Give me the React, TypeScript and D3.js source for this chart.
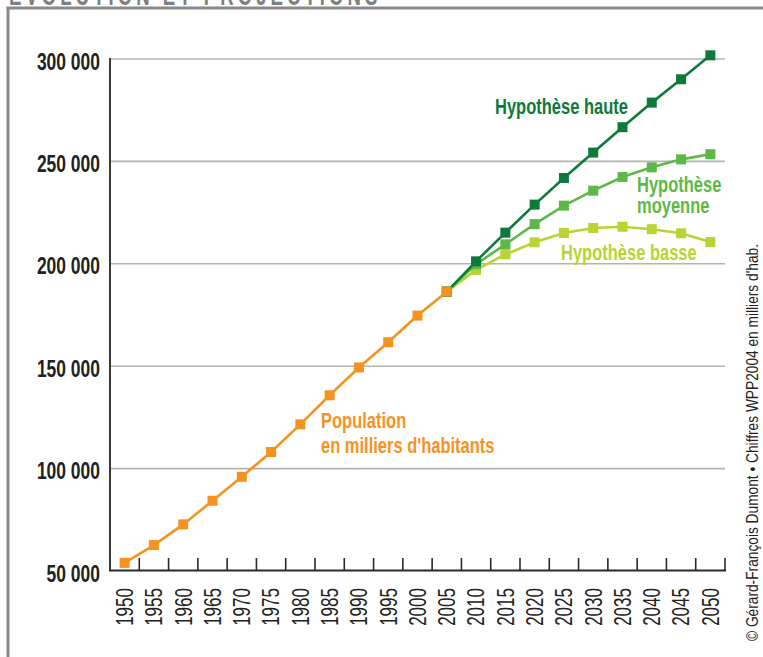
import * as d3 from "d3";
import React, { useEffect, useRef } from "react";

const years = [
  "1950", "1955", "1960", "1965", "1970", "1975", "1980", "1985", "1990", "1995", "2000",
  "2005", "2010", "2015", "2020", "2025", "2030", "2035", "2040", "2045", "2050",
];
const population = [
  53975, 62656, 72759, 84292, 95996, 108113, 121618, 135814, 149394, 161692, 174718, 186405,
];
const projYears = ["2005", "2010", "2015", "2020", "2025", "2030", "2035", "2040", "2045", "2050"];
const haute = [186405, 201200, 215200, 228900, 241900, 254300, 266700, 278700, 290100, 301800];
const moyenne = [186405, 199800, 209500, 219400, 228400, 235700, 242400, 247100, 251000, 253500];
const basse = [186405, 197000, 204600, 210500, 215000, 217500, 218100, 216900, 214900, 210600];
const yTicks = [50000, 100000, 150000, 200000, 250000, 300000];

// no narrow font installed, so squeeze Liberation Sans horizontally
const FONT = "'Liberation Sans', Arial, sans-serif";

export default function App() {
  const ref = useRef<SVGSVGElement>(null);

  useEffect(() => {
    document.body.style.margin = "0";
    const svg = d3.select(ref.current);
    svg.selectAll("*").remove();

    const x = d3.scaleBand().domain(years).range([110, 725]).padding(0);
    const y = d3.scaleLinear().domain([50000, 300000]).range([571, 59]);
    const cx = (yr) => x(yr) + x.bandwidth() / 2;

    // frame + title
    svg.append("line").attr("x1", 8).attr("x2", 8).attr("y1", 7).attr("y2", 657)
      .attr("stroke", "#8a8a8a").attr("stroke-width", 3);
    svg.append("line").attr("x1", 6.5).attr("x2", 763).attr("y1", 8).attr("y2", 8)
      .attr("stroke", "#8a8a8a").attr("stroke-width", 3);
    svg.append("text").attr("transform", "translate(9,5) scale(0.62,1)")
      .style("font-family", FONT).style("font-weight", "bold").style("font-size", "30px")
      .style("letter-spacing", "6.5px").attr("fill", "#7f7f7f")
      .text("EVOLUTION ET PROJECTIONS");

    // grid
    svg.append("g").selectAll("line")
      .data(yTicks.filter((d) => d > 50000))
      .join("line")
      .attr("x1", 110).attr("x2", 725)
      .attr("y1", (d) => y(d)).attr("y2", (d) => y(d))
      .attr("stroke", "#b3b3b3").attr("stroke-width", 1.6);

    // y labels
    svg.append("g").selectAll("text")
      .data(yTicks)
      .join("text")
      .attr("transform", (d) => `translate(100,${y(d) + 10.5}) scale(0.76,1)`)
      .attr("text-anchor", "end")
      .style("font-family", FONT).style("font-weight", "bold").style("font-size", "23px")
      .attr("fill", "#222")
      .text((d) => d3.format(",")(d).replace(",", " "));

    // axes
    svg.append("line").attr("x1", 110).attr("x2", 110).attr("y1", 58).attr("y2", 571)
      .attr("stroke", "#3a3a3a").attr("stroke-width", 2);
    svg.append("line").attr("x1", 109).attr("x2", 726).attr("y1", 570.5).attr("y2", 570.5)
      .attr("stroke", "#2a2a2a").attr("stroke-width", 2.2);
    const bounds = years.map((d) => x(d)).concat([x(years[years.length - 1]) + x.bandwidth()]);
    svg.append("g").selectAll("line")
      .data(bounds.slice(1))
      .join("line")
      .attr("x1", (d) => d).attr("x2", (d) => d)
      .attr("y1", 558).attr("y2", 571)
      .attr("stroke", "#2a2a2a").attr("stroke-width", 1.6);

    // x labels
    svg.append("g").selectAll("text")
      .data(years)
      .join("text")
      .attr("transform", (d) => `translate(${cx(d)},588) rotate(-90) scale(0.74,1)`)
      .attr("text-anchor", "end").attr("dy", "0.36em")
      .style("font-family", FONT).style("font-size", "23px")
      .attr("fill", "#222")
      .text((d) => d);

    // credit
    svg.append("text")
      .attr("transform", "translate(752,641) rotate(-90)")
      .attr("dy", "0.36em")
      .attr("textLength", 397).attr("lengthAdjust", "spacingAndGlyphs")
      .style("font-family", FONT).style("font-size", "17px")
      .attr("fill", "#222")
      .text("© Gérard-François Dumont • Chiffres WPP2004 en milliers d'hab.");

    const series = [
      { name: "basse", yrs: projYears, vals: basse, color: "#b8d432" },
      { name: "moyenne", yrs: projYears, vals: moyenne, color: "#5cb947" },
      { name: "haute", yrs: projYears, vals: haute, color: "#0d7a3b" },
      { name: "pop", yrs: years.slice(0, population.length), vals: population, color: "#f6921e" },
    ];
    const line = d3.line().x((d) => d[0]).y((d) => d[1]);

    series.forEach((s) => {
      const pts = s.yrs.map((yr, i) => [cx(yr), y(s.vals[i])]);
      const g = svg.append("g");
      g.append("path").attr("d", line(pts)).attr("fill", "none")
        .attr("stroke", s.color).attr("stroke-width", 2.6);
      g.selectAll("rect").data(pts).join("rect")
        .attr("x", (d) => d[0] - 5).attr("y", (d) => d[1] - 5)
        .attr("width", 10).attr("height", 10).attr("fill", s.color);
    });

    // series labels
    const labels = [
      { lines: ["Hypothèse haute"], x: 495, y: 114, gap: 0, color: "#0d7a3b" },
      { lines: ["Hypothèse", "moyenne"], x: 637, y: 192, gap: 21, color: "#5cb947" },
      { lines: ["Hypothèse basse"], x: 561, y: 260, gap: 0, color: "#b8d432" },
      { lines: ["Population", "en milliers d'habitants"], x: 321, y: 428, gap: 24.5, color: "#f6921e" },
    ];
    labels.forEach((l) => {
      l.lines.forEach((s, i) => {
        svg.append("text")
          .attr("transform", `translate(${l.x},${l.y + i * l.gap}) scale(0.75,1)`)
          .style("font-family", FONT).style("font-weight", "bold").style("font-size", "22px")
          .attr("fill", l.color)
          .text(s);
      });
    });
  }, []);

  return (
    <div>
      <svg ref={ref} width={763} height={657} style={{ display: "block", background: "#fff" }} />
    </div>
  );
}
